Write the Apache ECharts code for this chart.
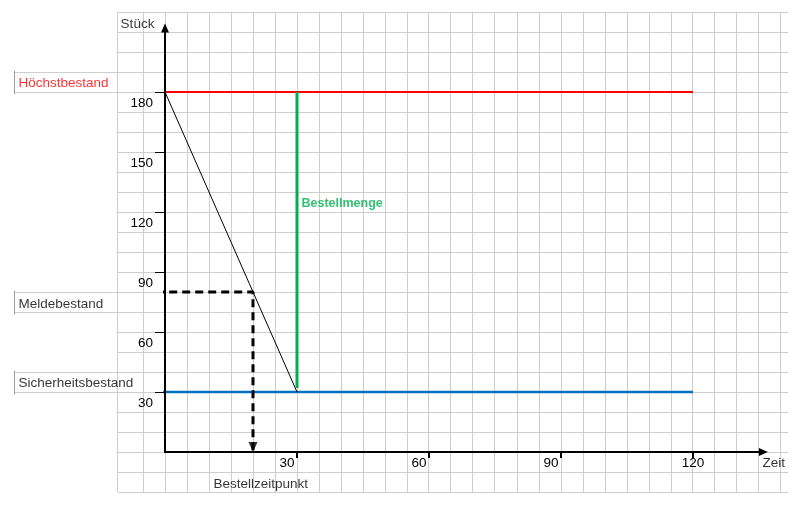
<!DOCTYPE html>
<html><head><meta charset="utf-8">
<script src="https://cdn.jsdelivr.net/npm/echarts@6/dist/echarts.min.js"></script>
<style>html,body{margin:0;padding:0;background:#fff}#c{width:788px;height:510px}</style>
</head><body><div id="c"></div>
<script>
// ---- data (in chart units: x = Zeit, y = Stück) ----
const xTicks = [30, 60, 90, 120];
const yTicks = [30, 60, 90, 120, 150, 180];
const hoechstLine = [[-2, 180], [120, 180]];
const sicherheitLine = [[-0.7, 30], [120, 30]];
const verbrauchLine = [[0, 180], [30, 30]];
const bestellmengeLine = [[30, 32], [30, 180]];
const meldeLine = [[-2, 80], [20, 80], [20, 0]];
const meldeArrow = [[20, 0]];
const annotationTexts = ['Stück', 'Höchstbestand', 'Meldebestand', 'Sicherheitsbestand', 'Bestellmenge', 'Bestellzeitpunkt', 'Zeit'];
const annotationX = [-10.2, -33.4, -33.4, -33.4, 30.9, 10.9, 135.7];
const annotationY = [214, 184.5, 74, 34.3, 124, -15.9, -5.5];
// spreadsheet background grid (chart units)
const sheetLeft = -10.7, sheetRight = 141.6, sheetTop = 220, sheetBottom = -20;
const labelCellLeft = -34.1;
const labelCellRows = [[190, 180], [80, 70], [40, 30]];

const FONT = '"Liberation Sans", Arial, sans-serif';

// build background grid segments
const sheetSegs = [];
const cols = [sheetLeft, -5];
for (let v = 0; v <= 140; v += 5) cols.push(v);
cols.forEach(x => sheetSegs.push([x, sheetBottom, x, sheetTop, 0]));
for (let v = sheetBottom; v <= sheetTop; v += 10) sheetSegs.push([sheetLeft, v, sheetRight, v, 0]);
labelCellRows.forEach(r => {
  sheetSegs.push([labelCellLeft, r[0], sheetLeft, r[0], 0]);
  sheetSegs.push([labelCellLeft, r[1], sheetLeft, r[1], 0]);
  sheetSegs.push([labelCellLeft, r[0] + 0.6, labelCellLeft, r[1] - 1.2, 1]);
});

const annColors = ['#000', '#ff0000', '#000', '#000', '#00b050', '#000', '#000'];
const annData = annotationTexts.map((t, i) => ({
  value: [annotationX[i], annotationY[i]],
  name: t,
  label: {
    show: true, position: 'right', distance: 0, formatter: t,
    fontFamily: FONT, fontSize: i === 4 ? 12.5 : 13.5,
    fontWeight: i === 4 ? 'bold' : 'normal',
    color: annColors[i], verticalAlign: 'middle', align: 'left'
  }
}));

const chart = echarts.init(document.getElementById('c'), null, { renderer: 'canvas' });
chart.setOption({
  animation: false,
  backgroundColor: '#fff',
  grid: { left: 165, top: 28, width: 598.4, height: 424, containLabel: false },
  xAxis: {
    type: 'value', min: 0, max: 136, z: 5,
    splitLine: { show: false },
    axisLine: { show: true, onZero: false, lineStyle: { color: '#000', width: 2 },
      symbol: ['none', 'triangle'], symbolSize: [8, 9] },
    axisTick: { show: true, customValues: xTicks, length: 6, lineStyle: { color: '#000', width: 2 } },
    axisLabel: {
      customValues: xTicks, margin: 11, verticalAlign: 'middle', align: 'center',
      formatter: v => v === 120 ? '{c|120}' : '{s|' + v + '}',
      rich: {
        s: { fontFamily: FONT, fontSize: 13.5, color: '#000', padding: [0, 20, 0, 0] },
        c: { fontFamily: FONT, fontSize: 13.5, color: '#000' }
      }
    }
  },
  yAxis: {
    type: 'value', min: 0, max: 212, z: 5,
    splitLine: { show: false },
    axisLine: { show: true, onZero: false, lineStyle: { color: '#000', width: 2 },
      symbol: ['none', 'triangle'], symbolSize: [8, 9] },
    axisTick: { show: true, customValues: yTicks, length: 10, lineStyle: { color: '#000', width: 1 } },
    axisLabel: {
      customValues: yTicks, margin: 12, verticalAlign: 'middle', align: 'right',
      formatter: v => '\n' + v, lineHeight: 22,
      fontFamily: FONT, fontSize: 13.5, color: '#000'
    }
  },
  series: [
    {
      type: 'custom', z: 0, silent: true, clip: false,
      data: sheetSegs,
      renderItem: (params, api) => {
        const p1 = api.coord([api.value(0), api.value(1)]);
        const p2 = api.coord([api.value(2), api.value(3)]);
        const kind = api.value(4);
        let x1 = p1[0], y1 = p1[1], x2 = p2[0], y2 = p2[1];
        if (Math.abs(x1 - x2) < 0.01) { x1 = x2 = Math.floor(x1) + 0.5; }
        if (Math.abs(y1 - y2) < 0.01) { y1 = y2 = Math.floor(y1) + 0.5; }
        return { type: 'line', shape: { x1, y1, x2, y2 },
          style: { stroke: kind === 1 ? '#9a9a9a' : '#cbd0cb', lineWidth: 1 } };
      }
    },
    { type: 'line', data: hoechstLine, symbol: 'none', z: 3, clip: false, lineStyle: { color: '#ff0000', width: 2 } },
    { type: 'line', data: sicherheitLine, symbol: 'none', z: 3, clip: false, lineStyle: { color: '#0070c0', width: 2.5 } },
    { type: 'line', data: verbrauchLine, symbol: 'none', z: 3, lineStyle: { color: '#000', width: 1 } },
    { type: 'line', data: bestellmengeLine, symbol: 'none', z: 3, lineStyle: { color: '#00b050', width: 3 } },
    { type: 'line', data: meldeLine, symbol: 'none', z: 4, clip: false, lineStyle: { color: '#000', width: 3, type: [8, 5] } },
    { type: 'scatter', data: meldeArrow, symbol: 'triangle', symbolSize: [9, 10], symbolRotate: 180,
      symbolOffset: [0, -5], z: 6, clip: false, itemStyle: { color: '#000' } },
    { type: 'scatter', data: annData, symbol: 'circle', symbolSize: 1, z: 10, silent: true, clip: false,
      itemStyle: { color: 'rgba(0,0,0,0)' } }
  ]
});
</script></body></html>
